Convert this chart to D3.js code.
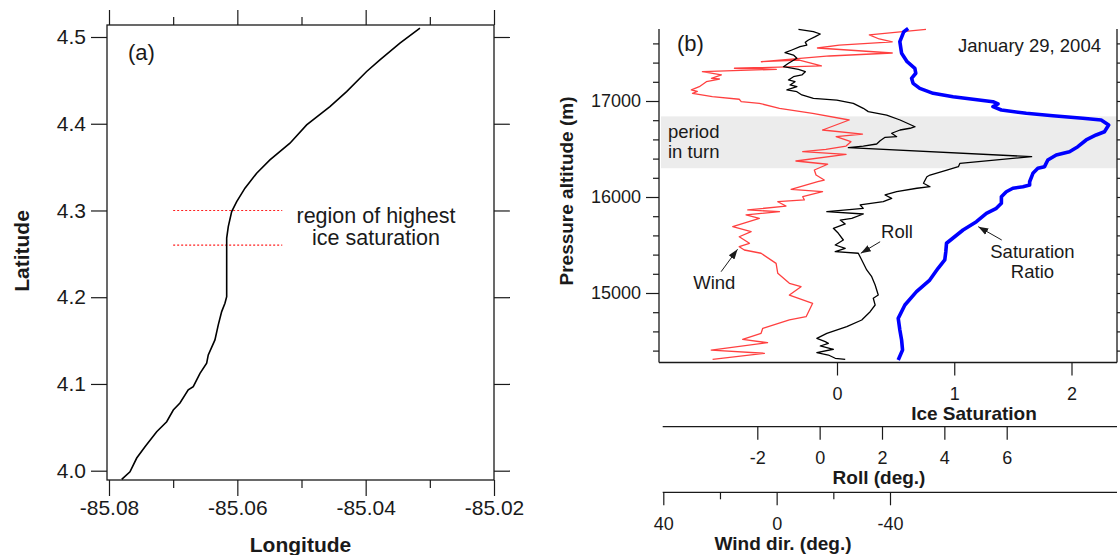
<!DOCTYPE html>
<html>
<head>
<meta charset="utf-8">
<script src="https://cdn.jsdelivr.net/npm/d3@7.9.0/dist/d3.min.js"></script>
<style>
  html, body { margin: 0; padding: 0; background: #fff; }
  svg { display: block; font-family: "Liberation Sans", Arial, sans-serif; }
</style>
</head>
<body>
<svg id="chart" width="1120" height="555"></svg>
<script>
// ---- panel (a): aircraft track ----
const trackLon = [-85.07802, -85.07673, -85.07568, -85.07439, -85.07257, -85.07101, -85.06998, -85.06894, -85.06765, -85.06687,
  -85.06582, -85.06478, -85.06453, -85.06349, -85.06297, -85.06244, -85.06193, -85.06166, -85.06166, -85.06166,
  -85.06141, -85.06088, -85.06010, -85.05881, -85.05699, -85.05492, -85.05180, -85.04920, -85.04557, -85.04297,
  -85.03985, -85.03778, -85.03466, -85.03154];
const trackLat = [3.9901, 3.9988, 4.0146, 4.0277, 4.0450, 4.0565, 4.0700, 4.0781, 4.0931, 4.0969,
  4.1123, 4.1239, 4.1335, 4.1508, 4.1681, 4.1834, 4.1931, 4.2007, 4.2450, 4.2681,
  4.2814, 4.2987, 4.3103, 4.3257, 4.3430, 4.3584, 4.3776, 4.3987, 4.4198, 4.4371,
  4.4602, 4.4737, 4.4930, 4.5103];
const iceRegionLat = [4.30, 4.26];
const iceRegionLon = [-85.07, -85.053];
const lonTicks = [-85.08, -85.06, -85.04, -85.02];
const lonMinor = [-85.07, -85.05, -85.03];
const latTicks = [4.0, 4.1, 4.2, 4.3, 4.4, 4.5];

// ---- panel (b): profiles vs pressure altitude ----
const altSat = [17755, 17722, 17618, 17497, 17409, 17341, 17289, 17236, 17184, 17132, 17080, 17045, 17018, 16993, 16969,
  16941, 16906, 16872, 16847, 16820, 16802, 16750, 16680, 16646, 16594, 16524, 16472, 16438, 16385, 16316,
  16299, 16247, 16159, 16125, 16107, 16091, 16055, 16003, 15934, 15882, 15830, 15743, 15656, 15518, 15430,
  15344, 15257, 15135, 15014, 14875, 14736, 14615, 14510, 14406, 14302];
const satRatio = [0.607, 0.570, 0.536, 0.551, 0.598, 0.664, 0.672, 0.636, 0.649, 0.706, 0.820, 0.990, 1.160, 1.330, 1.373,
  1.330, 1.402, 1.614, 1.841, 2.096, 2.253, 2.317, 2.281, 2.210, 2.125, 2.054, 1.983, 1.870, 1.798, 1.770,
  1.713, 1.671, 1.643, 1.643, 1.586, 1.500, 1.444, 1.402, 1.402, 1.359, 1.274, 1.189, 1.075, 0.934, 0.928,
  0.919, 0.862, 0.791, 0.678, 0.579, 0.522, 0.536, 0.551, 0.559, 0.522];

const altRoll = [17747, 17722, 17698, 17670, 17635, 17611, 17583, 17566, 17531, 17503,
  17479, 17445, 17393, 17357, 17330, 17305, 17271, 17253, 17219, 17201,
  17167, 17149, 17115, 17097, 17063, 17028, 17010, 16976, 16924, 16889,
  16854, 16802, 16732, 16716, 16698, 16664, 16628, 16622, 16586, 16552,
  16531, 16514, 16420, 16351, 16316, 16281, 16229, 16211, 16143, 16107,
  16091, 16055, 16021, 15986, 15951, 15917, 15882, 15847, 15823, 15778,
  15760, 15719, 15674, 15622, 15552, 15500, 15466, 15430, 15414, 15344,
  15240, 15170, 15083, 14979, 14945, 14875, 14805, 14719, 14649, 14580,
  14528, 14493, 14476, 14448, 14414, 14378, 14354, 14320, 14309];
const rollDeg = [-0.68, -0.20, 0.02, -0.14, -0.36, -0.46, -0.41, -0.63, -0.89, -1.11,
  -0.84, -0.73, -1.00, -1.16, -0.68, -0.46, -0.57, -0.84, -1.00, -0.79,
  -0.95, -0.73, -1.05, -0.73, -0.57, -0.20, 0.55, 1.08, 1.40, 1.56,
  2.15, 2.58, 3.06, 2.90, 2.58, 2.31, 2.47, 2.10, 1.94, 1.83,
  1.40, 0.92, 6.80, 4.50, 4.45, 4.08, 3.54, 3.44, 3.33, 3.54,
  3.12, 2.47, 2.10, 2.31, 2.04, 1.30, 1.40, 0.23, 1.40, 1.03,
  0.66, 0.82, 0.44, 0.60, 0.76, 0.50, 0.82, 0.50, 1.24, 1.35,
  1.51, 1.67, 1.78, 1.88, 1.72, 1.78, 1.62, 1.35, 0.87, 0.23,
  -0.09, 0.18, 0.28, 0.02, 0.44, -0.09, 0.28, 0.50, 0.82];

const altWind = [17747, 17688, 17646, 17615, 17583, 17552, 17500, 17469, 17409, 17427,
  17365, 17341, 17330, 17305, 17271, 17236, 17229, 17201, 17149, 17115,
  17099, 17080, 17045, 17018, 16993, 16976, 16924, 16872, 16802, 16698,
  16656, 16628, 16576, 16531, 16497, 16472, 16445, 16375, 16341, 16281,
  16229, 16177, 16159, 16080, 16055, 16003, 15969, 15951, 15906, 15865,
  15847, 15813, 15778, 15691, 15639, 15586, 15518, 15482, 15448, 15414,
  15309, 15205, 15101, 15066, 14979, 14893, 14753, 14719, 14632, 14580,
  14518, 14482, 14406, 14372, 14309];
const windDir = [-52.7, -32.7, -36.2, -40.8, -22.1, -14.4, -40.8, -18.6, 5.4, -8.0,
  -15.8, 14.9, 0.1, 26.2, 19.5, 23.0, 20.2, 24.8, 27.3, 30.1,
  28.0, 29.7, 22.7, 13.2, 12.5, 6.1, -1.0, -12.7, -25.6, -16.2,
  -30.3, -21.0, -26.2, -24.5, -17.4, -9.2, -24.5, -6.8, -18.0, -13.3,
  -13.9, -16.8, -14.5, -5.1, -16.2, -9.2, -9.8, -0.4, -3.3, 10.2,
  -1.0, 10.8, 6.1, 15.5, 9.0, 13.2, 9.6, 13.2, 11.4, 5.5,
  0.2, -0.4, -4.5, -8.6, -4.5, -12.7, -10.4, -4.5, 4.9, 5.5,
  12.0, 3.2, 23.1, 4.3, 22.6];

const turnPeriod = [16300, 16840];
const altTicks = [15000, 16000, 17000];
const altMinor = [14400, 14600, 14800, 15200, 15400, 15600, 15800, 16200, 16400, 16600, 16800, 17200, 17400, 17600];
const satTicks = [0, 1, 2];
const rollTicks = [-2, 0, 2, 4, 6];
const windTicks = [40, 0, -40];
const windMinor = [20, -20];

const svg = d3.select('#chart');
const INK = '#1a1a1a';
const FONT = '"Liberation Sans", Arial, sans-serif';

svg.append('defs').append('marker')
  .attr('id', 'arrow').attr('markerUnits', 'userSpaceOnUse')
  .attr('viewBox', '-10 -5 11 10').attr('refX', 0).attr('refY', 0)
  .attr('markerWidth', 11).attr('markerHeight', 10).attr('orient', 'auto')
  .append('path').attr('d', 'M-10,-3.5L0,0L-10,3.5Z').attr('fill', INK);

const styleAxis = (g, size) => {
  g.select('.domain').remove();
  g.attr('color', INK).attr('font-family', FONT).attr('font-size', size);
  g.selectAll('line').attr('stroke-width', 1.2);
  g.selectAll('text').attr('fill', INK);
};

// ================= panel (a) =================
const A = { left: 107, right: 494, top: 25, bottom: 480 };
const xLon = d3.scaleLinear().domain([-85.08, -85.02]).range([109, 494]);
const yLat = d3.scaleLinear().domain([4.0, 4.5]).range([470.7, 37]);

const ga = svg.append('g');
ga.append('rect').attr('x', A.left).attr('y', A.top)
  .attr('width', A.right - A.left).attr('height', A.bottom - A.top)
  .attr('fill', 'none').attr('stroke', INK).attr('stroke-width', 1.3);

ga.append('g').attr('transform', `translate(0,${A.bottom})`)
  .call(d3.axisBottom(xLon).tickValues(lonTicks).tickSize(16).tickPadding(4.5).tickFormat(d => d.toFixed(2)))
  .call(g => styleAxis(g, 21));
ga.append('g').attr('transform', `translate(0,${A.bottom})`)
  .call(d3.axisBottom(xLon).tickValues(lonMinor).tickSize(8).tickFormat(''))
  .call(g => styleAxis(g, 21));
ga.append('g').attr('transform', `translate(0,${A.top})`)
  .call(d3.axisTop(xLon).tickValues(lonTicks).tickSize(15).tickFormat(''))
  .call(g => styleAxis(g, 21));
ga.append('g').attr('transform', `translate(0,${A.top})`)
  .call(d3.axisTop(xLon).tickValues(lonMinor).tickSize(8).tickFormat(''))
  .call(g => styleAxis(g, 21));
ga.append('g').attr('transform', `translate(${A.left},0)`)
  .call(d3.axisLeft(yLat).tickValues(latTicks).tickSize(16).tickPadding(5).tickFormat(d => d.toFixed(1)))
  .call(g => styleAxis(g, 21));
ga.append('g').attr('transform', `translate(${A.right},0)`)
  .call(d3.axisRight(yLat).tickValues(latTicks).tickSize(16).tickFormat(''))
  .call(g => styleAxis(g, 21));

iceRegionLat.forEach(lat => {
  ga.append('line')
    .attr('x1', xLon(iceRegionLon[0])).attr('x2', xLon(iceRegionLon[1]))
    .attr('y1', yLat(lat)).attr('y2', yLat(lat))
    .attr('stroke', '#ff2020').attr('stroke-width', 1.2).attr('stroke-dasharray', '2,2');
});

const track = trackLon.map((lon, i) => [lon, trackLat[i]]);
ga.append('path').datum(track)
  .attr('d', d3.line().x(d => xLon(d[0])).y(d => yLat(d[1])))
  .attr('fill', 'none').attr('stroke', '#000').attr('stroke-width', 1.6);

ga.append('text').attr('x', 128).attr('y', 60).attr('font-size', 22).attr('fill', INK).text('(a)');
ga.append('text').attr('x', 376).attr('y', 222.5).attr('text-anchor', 'middle')
  .attr('font-size', 21.5).attr('fill', INK).text('region of highest');
ga.append('text').attr('x', 376).attr('y', 245).attr('text-anchor', 'middle')
  .attr('font-size', 21.5).attr('fill', INK).text('ice saturation');
ga.append('text').attr('x', (A.left + A.right) / 2).attr('y', 552).attr('text-anchor', 'middle')
  .attr('font-size', 21).attr('font-weight', 'bold').attr('fill', INK).text('Longitude');
ga.append('text').attr('transform', 'translate(29,251) rotate(-90)').attr('text-anchor', 'middle')
  .attr('font-size', 21).attr('font-weight', 'bold').attr('fill', INK).text('Latitude');

// ================= panel (b) =================
const B = { left: 659, right: 1117, top: 29, bottom: 362.5 };
const yAlt = d3.scaleLinear().domain([15000, 17000]).range([293, 101]);
const xSat = d3.scaleLinear().domain([0, 2]).range([837, 1071.5]);
const xRoll = d3.scaleLinear().domain([-2, 6]).range([757.3, 1006.7]);
const xWind = d3.scaleLinear().domain([40, -40]).range([663.3, 890]);

const gb = svg.append('g');
gb.append('rect').attr('x', B.left + 2).attr('width', B.right - B.left - 2)
  .attr('y', yAlt(turnPeriod[1])).attr('height', yAlt(turnPeriod[0]) - yAlt(turnPeriod[1]))
  .attr('fill', '#ececec');

// frame lines (left, right, bottom)
[[B.left, B.top, B.left, B.bottom], [B.right, B.top, B.right, B.bottom], [B.left, B.bottom, B.right, B.bottom]]
  .forEach(([x1, y1, x2, y2]) => gb.append('line').attr('x1', x1).attr('y1', y1).attr('x2', x2).attr('y2', y2)
    .attr('stroke', INK).attr('stroke-width', 1.3));

gb.append('g').attr('transform', `translate(${B.left},0)`)
  .call(d3.axisLeft(yAlt).tickValues(altTicks).tickSize(13).tickPadding(5).tickFormat(d => String(d)))
  .call(g => styleAxis(g, 18));
gb.append('g').attr('transform', `translate(${B.left},0)`)
  .call(d3.axisLeft(yAlt).tickValues(altMinor).tickSize(6).tickFormat(''))
  .call(g => styleAxis(g, 18));
gb.append('g').attr('transform', `translate(${B.right},0)`)
  .call(d3.axisRight(yAlt).tickValues(altTicks).tickSize(13).tickFormat(''))
  .call(g => styleAxis(g, 18));
gb.append('g').attr('transform', `translate(${B.right},0)`)
  .call(d3.axisRight(yAlt).tickValues(altMinor).tickSize(6).tickFormat(''))
  .call(g => styleAxis(g, 18));

gb.append('g').attr('transform', `translate(0,${B.bottom})`)
  .call(d3.axisBottom(xSat).tickValues(satTicks).tickSize(13).tickPadding(11.5).tickFormat(d => String(d)))
  .call(g => styleAxis(g, 18));

const rollY = 426.7, windY = 492.3;
[rollY, windY].forEach(y => gb.append('line').attr('x1', 662.7).attr('x2', B.right)
  .attr('y1', y).attr('y2', y).attr('stroke', INK).attr('stroke-width', 1.3));
gb.append('g').attr('transform', `translate(0,${rollY})`)
  .call(d3.axisBottom(xRoll).tickValues(rollTicks).tickSize(13).tickPadding(12).tickFormat(d => String(d)))
  .call(g => styleAxis(g, 18));
gb.append('g').attr('transform', `translate(0,${windY})`)
  .call(d3.axisBottom(xWind).tickValues(windTicks).tickSize(13).tickPadding(11.6).tickFormat(d => String(d)))
  .call(g => styleAxis(g, 18));
gb.append('g').attr('transform', `translate(0,${windY})`)
  .call(d3.axisBottom(xWind).tickValues(windMinor).tickSize(7).tickFormat(''))
  .call(g => styleAxis(g, 18));

// profiles
const windLine = altWind.map((a, i) => [windDir[i], a]);
const rollLine = altRoll.map((a, i) => [rollDeg[i], a]);
const satLine = altSat.map((a, i) => [satRatio[i], a]);

gb.append('path').datum(windLine)
  .attr('d', d3.line().x(d => xWind(d[0])).y(d => yAlt(d[1])))
  .attr('fill', 'none').attr('stroke', '#ff4040').attr('stroke-width', 1.3).attr('stroke-linejoin', 'round');
gb.append('path').datum(rollLine)
  .attr('d', d3.line().x(d => xRoll(d[0])).y(d => yAlt(d[1])))
  .attr('fill', 'none').attr('stroke', '#000').attr('stroke-width', 1.3).attr('stroke-linejoin', 'round');
gb.append('path').datum(satLine)
  .attr('d', d3.line().x(d => xSat(d[0])).y(d => yAlt(d[1])))
  .attr('fill', 'none').attr('stroke', '#0000ff').attr('stroke-width', 3.6).attr('stroke-linejoin', 'round');

// annotations
const arrow = (x1, y1, x2, y2) => gb.append('line')
  .attr('x1', x1).attr('y1', y1).attr('x2', x2).attr('y2', y2)
  .attr('stroke', INK).attr('stroke-width', 1).attr('marker-end', 'url(#arrow)');
arrow(xWind(19.6), yAlt(15222), xWind(13.8), yAlt(15455));
arrow(xRoll(1.94), yAlt(15534), xRoll(1.32), yAlt(15414));
arrow(xSat(1.405), yAlt(15552), xSat(1.205), yAlt(15691));

const label = (x, y, txt, anchor) => gb.append('text').attr('x', x).attr('y', y)
  .attr('text-anchor', anchor || 'start').attr('font-size', 18.5).attr('fill', INK).text(txt);
label(xWind(22), yAlt(15039), 'Wind', 'middle');
label(xRoll(1.97), yAlt(15570), 'Roll');
label(xSat(1.667), yAlt(15361), 'Saturation', 'middle');
label(xSat(1.667), yAlt(15153), 'Ratio', 'middle');
label(668, 138.3, 'period');
label(668, 158.3, 'in turn');
label(958, 51.7, 'January 29, 2004');
gb.append('text').attr('x', 677).attr('y', 51).attr('font-size', 22).attr('fill', INK).text('(b)');

const title = (x, y, txt, rot) => gb.append('text')
  .attr('transform', `translate(${x},${y})` + (rot ? ' rotate(-90)' : ''))
  .attr('text-anchor', 'middle').attr('font-size', 19).attr('font-weight', 'bold').attr('fill', INK).text(txt);
title(573, 191, 'Pressure altitude (m)', true);
title(974, 419.5, 'Ice Saturation');
title(879, 484, 'Roll (deg.)');
title(783, 550, 'Wind dir. (deg.)');
</script>
</body>
</html>
